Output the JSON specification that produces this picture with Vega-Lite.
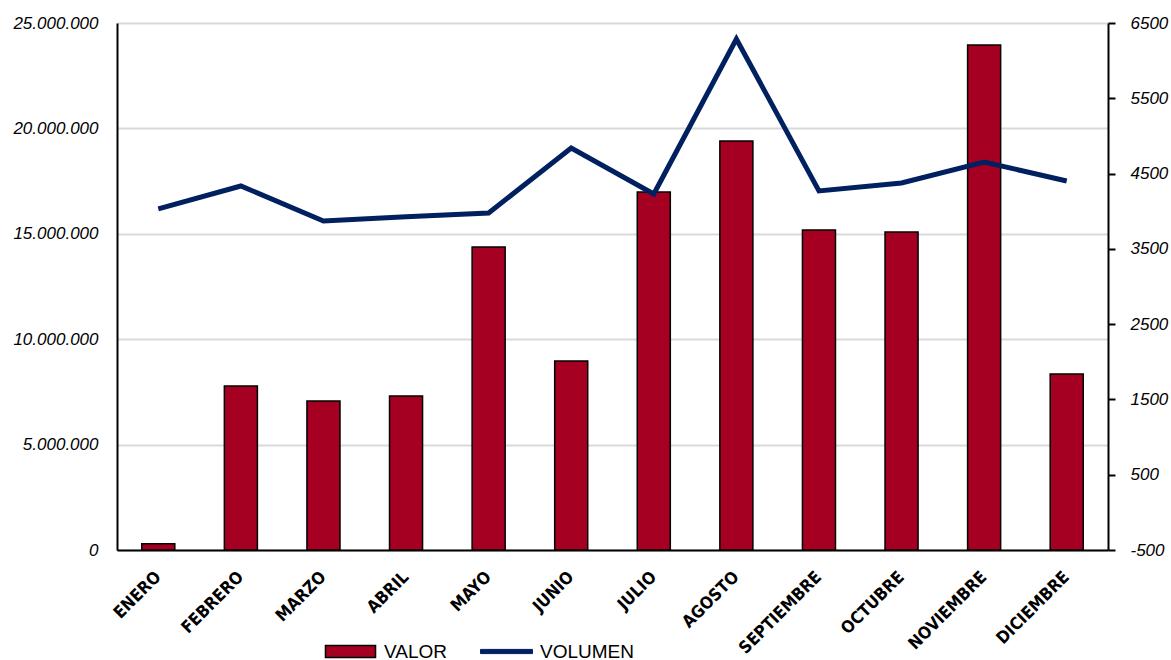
{
  "$schema": "https://vega.github.io/schema/vega-lite/v6.json",
  "width": 991,
  "height": 527,
  "autosize": {"type": "none"},
  "padding": {"left": 117, "top": 23, "right": 63, "bottom": 110},
  "background": "white",
  "config": {
    "locale": {"number": {"decimal": ",", "thousands": ".", "grouping": [3], "currency": ["", "€"], "minus": "-"}},
    "font": "Liberation Sans",
    "view": {"stroke": null}
  },
  "data": {
    "values": [
      {"mes": "ENERO", "valor": 300000, "volumen": 4030},
      {"mes": "FEBRERO", "valor": 7780000, "volumen": 4335},
      {"mes": "MARZO", "valor": 7070000, "volumen": 3870},
      {"mes": "ABRIL", "valor": 7310000, "volumen": 3925},
      {"mes": "MAYO", "valor": 14370000, "volumen": 3976},
      {"mes": "JUNIO", "valor": 8970000, "volumen": 4840},
      {"mes": "JULIO", "valor": 16980000, "volumen": 4229},
      {"mes": "AGOSTO", "valor": 19400000, "volumen": 6288},
      {"mes": "SEPTIEMBRE", "valor": 15180000, "volumen": 4269},
      {"mes": "OCTUBRE", "valor": 15090000, "volumen": 4375},
      {"mes": "NOVIEMBRE", "valor": 23960000, "volumen": 4654},
      {"mes": "DICIEMBRE", "valor": 8350000, "volumen": 4401}
    ]
  },
  "encoding": {
    "x": {
      "field": "mes",
      "type": "nominal",
      "sort": null,
      "scale": {"paddingInner": 0.6, "paddingOuter": 0.3},
      "axis": {
        "title": null,
        "labelAngle": -45,
        "labelAlign": "right",
        "labelBaseline": "middle",
        "labelFont": "DejaVu Sans Condensed, Liberation Sans",
        "labelFontWeight": "bold",
        "labelFontSize": 17,
        "labelColor": "black",
        "labelPadding": 24,
        "ticks": false,
        "domainColor": "black",
        "domainWidth": 2
      }
    }
  },
  "layer": [
    {
      "mark": {"type": "bar", "stroke": "black", "strokeWidth": 1.5},
      "encoding": {
        "y": {
          "field": "valor",
          "type": "quantitative",
          "scale": {"domain": [0, 25000000], "nice": false},
          "axis": {
            "title": null,
            "values": [0, 5000000, 10000000, 15000000, 20000000, 25000000],
            "format": ",d",
            "labelFont": "Liberation Sans",
            "labelFontStyle": "italic",
            "labelFontSize": 17,
            "labelColor": "black",
            "labelPadding": 19,
            "ticks": false,
            "domainColor": "black",
            "domainWidth": 2,
            "gridColor": "#d9d9d9",
            "gridWidth": 2
          }
        },
        "fill": {
          "datum": "VALOR",
          "type": "nominal",
          "scale": {"range": ["#a50021"]},
          "legend": {
            "title": null,
            "orient": "none",
            "legendX": 224,
            "legendY": 619,
            "symbolType": "M-4.17,-1H4.17V1H-4.17Z",
            "symbolSize": 144,
            "symbolStrokeColor": "black",
            "symbolStrokeWidth": 1.5,
            "labelFont": "Liberation Sans",
            "labelFontSize": 19,
            "labelColor": "black",
            "labelOffset": 24
          }
        }
      }
    },
    {
      "mark": {"type": "line", "strokeWidth": 5, "strokeJoin": "miter"},
      "encoding": {
        "y": {
          "field": "volumen",
          "type": "quantitative",
          "scale": {"domain": [-500, 6500], "nice": false, "zero": false},
          "axis": {
            "title": null,
            "orient": "right",
            "values": [-500, 500, 1500, 2500, 3500, 4500, 5500, 6500],
            "format": "d",
            "grid": false,
            "labelFont": "Liberation Sans",
            "labelFontStyle": "italic",
            "labelFontSize": 17,
            "labelColor": "black",
            "labelPadding": 15,
            "tickSize": 7,
            "tickColor": "black",
            "tickWidth": 2,
            "domainColor": "black",
            "domainWidth": 2
          }
        },
        "stroke": {
          "datum": "VOLUMEN",
          "type": "nominal",
          "scale": {"range": ["#002060"]},
          "legend": {
            "title": null,
            "orient": "none",
            "legendX": 380,
            "legendY": 619,
            "symbolType": "M-4.33,-0.35H4.33V0.35H-4.33Z",
            "symbolSize": 144,
            "symbolFillColor": "#002060",
            "symbolStrokeWidth": 1,
            "labelFont": "Liberation Sans",
            "labelFontSize": 19,
            "labelColor": "black",
            "labelOffset": 24
          }
        }
      }
    }
  ],
  "resolve": {"scale": {"y": "independent", "fill": "independent", "stroke": "independent"}}
}
